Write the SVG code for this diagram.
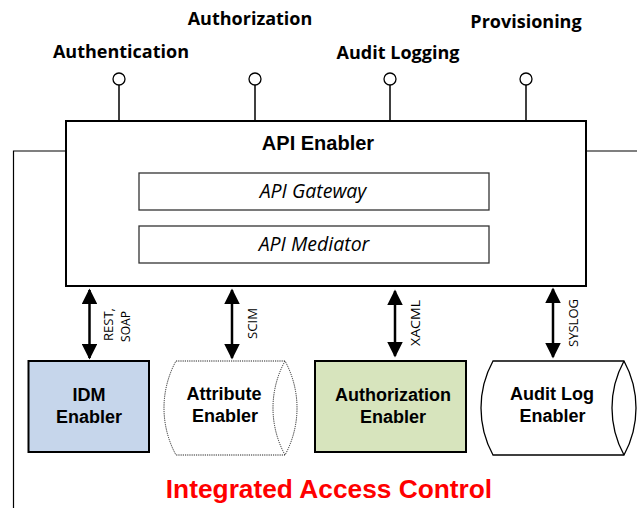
<svg xmlns="http://www.w3.org/2000/svg" width="637" height="508" viewBox="0 0 637 508">
  <style>
    .iface { font-family: "Open Sans", "Noto Sans", sans-serif; font-weight: bold; font-size: 18px; fill: #000; text-anchor: middle; }
    .title { font-family: "Liberation Sans", Arial, sans-serif; font-weight: bold; font-size: 20px; fill: #000; text-anchor: middle; }
    .sub { font-family: "Open Sans", "Noto Sans", sans-serif; font-style: italic; font-size: 19.5px; fill: #000; text-anchor: middle; }
    .node { font-family: "Liberation Sans", Arial, sans-serif; font-weight: bold; font-size: 18px; fill: #000; text-anchor: middle; }
    .proto { font-family: "Open Sans", "Noto Sans", sans-serif; font-size: 13.5px; fill: #000; }
    .stem { stroke: #000; stroke-width: 1.5; fill: none; }
    .port { stroke: #000; stroke-width: 1.3; fill: #fff; }
    .frame { stroke: #000; stroke-width: 1.2; fill: none; }
    .link { stroke: #000; stroke-width: 2.5; fill: none; marker-start: url(#head); marker-end: url(#head); }
    .inner { stroke: #333; stroke-width: 1.3; fill: #fff; }
    .box { stroke: #000; stroke-width: 2; }
  </style>
  <defs>
    <marker id="head" viewBox="0 0 10 10" refX="9" refY="5" markerWidth="6.2" markerHeight="6.2" markerUnits="strokeWidth" orient="auto-start-reverse">
      <path d="M0,0 L10,5 L0,10 Z" fill="#000"/>
    </marker>
  </defs>

  <!-- surrounding boundary of the integrated access control system -->
  <g id="boundary">
    <polyline class="frame" points="66,151 13.5,151 13.5,508"/>
    <line class="frame" x1="586" y1="151" x2="637" y2="151"/>
  </g>

  <!-- exposed interfaces on top of the API enabler -->
  <g id="iface-authentication">
    <line class="stem" x1="119" y1="85" x2="119" y2="121"/>
    <circle class="port" cx="119" cy="79" r="6"/>
    <text class="iface" x="121" y="58">Authentication</text>
  </g>
  <g id="iface-authorization">
    <line class="stem" x1="255" y1="85" x2="255" y2="121"/>
    <circle class="port" cx="255" cy="79" r="6"/>
    <text class="iface" x="250" y="25">Authorization</text>
  </g>
  <g id="iface-audit-logging">
    <line class="stem" x1="390" y1="85" x2="390" y2="121"/>
    <circle class="port" cx="390" cy="79" r="6"/>
    <text class="iface" x="398" y="59">Audit Logging</text>
  </g>
  <g id="iface-provisioning">
    <line class="stem" x1="526" y1="85" x2="526" y2="121"/>
    <circle class="port" cx="526" cy="79" r="6"/>
    <text class="iface" x="526" y="28">Provisioning</text>
  </g>

  <!-- API enabler with its gateway and mediator -->
  <g id="api-enabler">
    <rect x="66" y="121" width="520" height="165" fill="#fff" stroke="#000" stroke-width="2"/>
    <text class="title" x="318" y="150">API Enabler</text>
  </g>
  <g id="api-gateway">
    <rect class="inner" x="139" y="173" width="350" height="37"/>
    <text class="sub" x="313" y="198">API Gateway</text>
  </g>
  <g id="api-mediator">
    <rect class="inner" x="139" y="226" width="350" height="37"/>
    <text class="sub" x="314" y="250.5">API Mediator</text>
  </g>

  <!-- protocol connectors -->
  <g id="connectors">
    <line class="link" x1="89.5" y1="290" x2="89.5" y2="358"/>
    <line class="link" x1="232" y1="290" x2="232" y2="358"/>
    <line class="link" x1="395" y1="291" x2="395" y2="356"/>
    <line class="link" x1="553" y1="289" x2="553" y2="357"/>
    <text class="proto" transform="translate(112.5,341) rotate(-90)" textLength="33" lengthAdjust="spacingAndGlyphs">REST,</text>
    <text class="proto" transform="translate(130,342) rotate(-90)" textLength="31" lengthAdjust="spacingAndGlyphs">SOAP</text>
    <text class="proto" transform="translate(257,339) rotate(-90)" textLength="31" lengthAdjust="spacingAndGlyphs">SCIM</text>
    <text class="proto" transform="translate(420,346) rotate(-90)" textLength="46" lengthAdjust="spacingAndGlyphs">XACML</text>
    <text class="proto" transform="translate(577.5,347) rotate(-90)" textLength="48" lengthAdjust="spacingAndGlyphs">SYSLOG</text>
  </g>

  <!-- back-end enablers -->
  <g id="idm-enabler">
    <rect class="box" x="28.5" y="361" width="120.5" height="91" fill="#c6d6eb"/>
    <text class="node" x="89" y="401">IDM</text>
    <text class="node" x="89" y="423">Enabler</text>
  </g>
  <g id="attribute-enabler">
    <path d="M176,361 L285,361 A98,98 0 0 1 285,455 L176,455 A98,98 0 0 1 176,361 Z" fill="#fff" stroke="#222" stroke-width="1" stroke-dasharray="1.2,1"/>
    <path d="M285,361 A98,98 0 0 0 285,455" fill="none" stroke="#222" stroke-width="1" stroke-dasharray="1.2,1"/>
    <text class="node" x="224" y="400">Attribute</text>
    <text class="node" x="225" y="422">Enabler</text>
  </g>
  <g id="authorization-enabler">
    <rect class="box" x="315" y="361" width="151" height="91" fill="#d7e4bd"/>
    <text class="node" x="393" y="401">Authorization</text>
    <text class="node" x="393" y="423">Enabler</text>
  </g>
  <g id="audit-log-enabler">
    <path d="M493,361 L624,361 A98,98 0 0 1 624,455 L493,455 A98,98 0 0 1 493,361 Z" fill="#fff" stroke="#000" stroke-width="1.3"/>
    <path d="M624,361 A98,98 0 0 0 624,455" fill="none" stroke="#000" stroke-width="1.3"/>
    <text class="node" x="552" y="400">Audit Log</text>
    <text class="node" x="552.5" y="422">Enabler</text>
  </g>

  <text x="329" y="498" font-family="'Liberation Sans', Arial, sans-serif" font-weight="bold" font-size="26.3" fill="#ff0000" text-anchor="middle">Integrated Access Control</text>
</svg>
